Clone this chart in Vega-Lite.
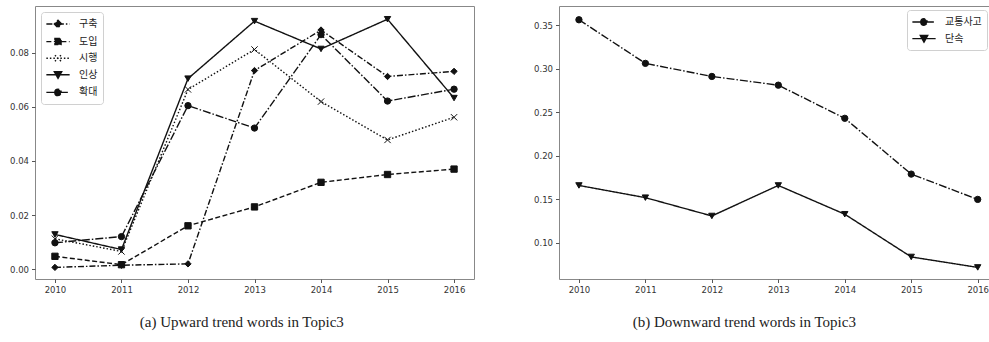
{
  "$schema": "https://vega.github.io/schema/vega-lite/v6.json",
  "padding": {"left": 9, "top": 5, "right": 0, "bottom": 0},
  "autosize": {"type": "pad"},
  "background": "white",
  "spacing": 58,
  "config": {
    "view": {"stroke": "#888", "strokeWidth": 1},
    "axis": {"grid": false, "domain": false, "tickColor": "#555", "tickSize": 3.5, "labelFont": "DejaVu Sans", "labelFontSize": 8.5, "labelColor": "#333", "title": null, "labelPadding": 3},
    "legend": {"title": null, "labelFont": "Noto Sans CJK KR", "labelFontSize": 10, "labelColor": "#222", "symbolSize": 150, "symbolOffset": 5, "padding": 5, "strokeColor": "#d0d0d0", "cornerRadius": 3, "fillColor": "white", "labelOffset": 14, "rowPadding": 3.6, "symbolFillColor": "#111", "symbolStrokeColor": "#111", "symbolStrokeWidth": 1.4}
  },
  "datasets": {
    "left": [
      {"year": 2010, "word": "구축", "value": 0.0006},
      {"year": 2011, "word": "구축", "value": 0.0014},
      {"year": 2012, "word": "구축", "value": 0.0019},
      {"year": 2013, "word": "구축", "value": 0.0735},
      {"year": 2014, "word": "구축", "value": 0.0885},
      {"year": 2015, "word": "구축", "value": 0.0713},
      {"year": 2016, "word": "구축", "value": 0.0732},
      {"year": 2010, "word": "도입", "value": 0.0047},
      {"year": 2011, "word": "도입", "value": 0.0016},
      {"year": 2012, "word": "도입", "value": 0.0160},
      {"year": 2013, "word": "도입", "value": 0.0230},
      {"year": 2014, "word": "도입", "value": 0.0321},
      {"year": 2015, "word": "도입", "value": 0.0350},
      {"year": 2016, "word": "도입", "value": 0.0370},
      {"year": 2010, "word": "시행", "value": 0.0112},
      {"year": 2011, "word": "시행", "value": 0.0065},
      {"year": 2012, "word": "시행", "value": 0.0665},
      {"year": 2013, "word": "시행", "value": 0.0813},
      {"year": 2014, "word": "시행", "value": 0.0620},
      {"year": 2015, "word": "시행", "value": 0.0478},
      {"year": 2016, "word": "시행", "value": 0.0562},
      {"year": 2010, "word": "인상", "value": 0.0128},
      {"year": 2011, "word": "인상", "value": 0.0072},
      {"year": 2012, "word": "인상", "value": 0.0705},
      {"year": 2013, "word": "인상", "value": 0.0918},
      {"year": 2014, "word": "인상", "value": 0.0815},
      {"year": 2015, "word": "인상", "value": 0.0925},
      {"year": 2016, "word": "인상", "value": 0.0633},
      {"year": 2010, "word": "확대", "value": 0.0097},
      {"year": 2011, "word": "확대", "value": 0.0120},
      {"year": 2012, "word": "확대", "value": 0.0605},
      {"year": 2013, "word": "확대", "value": 0.0522},
      {"year": 2014, "word": "확대", "value": 0.0868},
      {"year": 2015, "word": "확대", "value": 0.0622},
      {"year": 2016, "word": "확대", "value": 0.0666}
    ],
    "right": [
      {"year": 2010, "word": "교통사고", "value": 0.356},
      {"year": 2011, "word": "교통사고", "value": 0.306},
      {"year": 2012, "word": "교통사고", "value": 0.291},
      {"year": 2013, "word": "교통사고", "value": 0.281},
      {"year": 2014, "word": "교통사고", "value": 0.243},
      {"year": 2015, "word": "교통사고", "value": 0.179},
      {"year": 2016, "word": "교통사고", "value": 0.150},
      {"year": 2010, "word": "단속", "value": 0.166},
      {"year": 2011, "word": "단속", "value": 0.152},
      {"year": 2012, "word": "단속", "value": 0.131},
      {"year": 2013, "word": "단속", "value": 0.166},
      {"year": 2014, "word": "단속", "value": 0.133},
      {"year": 2015, "word": "단속", "value": 0.084},
      {"year": 2016, "word": "단속", "value": 0.072}
    ]
  },
  "hconcat": [
    {
      "width": 439,
      "height": 273,
      "data": {"name": "left"},
      "title": {"text": "(a) Upward trend words in Topic3", "orient": "bottom", "anchor": "middle", "frame": "bounds", "font": "Liberation Serif", "fontSize": 15, "fontWeight": "normal", "color": "#222", "offset": 21},
      "encoding": {
        "x": {"field": "year", "type": "quantitative", "scale": {"domain": [2009.7, 2016.3], "nice": false, "zero": false}, "axis": {"values": [2010, 2011, 2012, 2013, 2014, 2015, 2016], "format": "d", "labelFlush": false}},
        "y": {"field": "value", "type": "quantitative", "scale": {"domain": [-0.0037, 0.0974], "nice": false, "zero": false}, "axis": {"values": [0, 0.02, 0.04, 0.06, 0.08], "format": ".2f"}}
      },
      "layer": [
        {
          "mark": {"type": "line", "strokeWidth": 1.4, "color": "#111"},
          "encoding": {
            "detail": {"field": "word", "type": "nominal"},
            "strokeDash": {
              "field": "word", "type": "nominal",
              "scale": {"domain": ["구축", "도입", "시행", "인상", "확대", "교통사고", "단속"], "range": [[6, 2, 1.5, 2], [5, 2.5], [1.5, 2], [1, 0], [8, 2, 1.5, 2], [8, 2, 1.5, 2], [1, 0]]},
              "legend": {
                "orient": "top-left", "offset": 6,
                "values": ["구축", "도입", "시행", "인상", "확대"],
                "symbolType": {"expr": "datum.value === '구축' ? 'M-1.9,0H1.9M0,-0.6L0.6,0L0,0.6L-0.6,0Z' : datum.value === '도입' ? 'M-1.9,0H1.9M-0.5,-0.5H0.5V0.5H-0.5Z' : datum.value === '시행' ? 'M-1.9,0H1.9M-0.5,-0.5L0.5,0.5M-0.5,0.5L0.5,-0.5' : datum.value === '인상' ? 'M-1.9,0H1.9M-0.6,-0.5L0.6,-0.5L0,0.58Z' : 'M-1.9,0H1.9M-0.52,0A0.52,0.52 0 1,0 0.52,0A0.52,0.52 0 1,0 -0.52,0Z'"}
              }
            }
          }
        },
        {
          "mark": {"type": "point", "filled": true, "size": 40, "color": "#111", "stroke": "#111", "strokeWidth": 1, "opacity": 1},
          "encoding": {
            "shape": {
              "field": "word", "type": "nominal",
              "scale": {"domain": ["구축", "도입", "시행", "인상", "확대", "교통사고", "단속"], "range": ["diamond", "square", "M-1,-1L1,1M-1,1L1,-1", "triangle-down", "circle", "circle", "triangle-down"]},
              "legend": null
            }
          }
        }
      ]
    },
    {
      "width": 432,
      "height": 273,
      "data": {"name": "right"},
      "title": {"text": "(b) Downward trend words in Topic3", "orient": "bottom", "anchor": "middle", "frame": "bounds", "font": "Liberation Serif", "fontSize": 15, "fontWeight": "normal", "color": "#222", "offset": 21, "dx": -18},
      "encoding": {
        "x": {"field": "year", "type": "quantitative", "scale": {"domain": [2009.7, 2016.2], "nice": false, "zero": false}, "axis": {"values": [2010, 2011, 2012, 2013, 2014, 2015, 2016], "format": "d", "labelFlush": false}},
        "y": {"field": "value", "type": "quantitative", "scale": {"domain": [0.0587, 0.3718], "nice": false, "zero": false}, "axis": {"values": [0.1, 0.15, 0.2, 0.25, 0.3, 0.35], "format": ".2f"}}
      },
      "layer": [
        {
          "mark": {"type": "line", "strokeWidth": 1.4, "color": "#111"},
          "encoding": {
            "detail": {"field": "word", "type": "nominal"},
            "strokeDash": {
              "field": "word", "type": "nominal",
              "scale": {"domain": ["구축", "도입", "시행", "인상", "확대", "교통사고", "단속"], "range": [[6, 2, 1.5, 2], [5, 2.5], [1.5, 2], [1, 0], [8, 2, 1.5, 2], [8, 2, 1.5, 2], [1, 0]]},
              "legend": {
                "orient": "top-right", "offset": 4,
                "values": ["교통사고", "단속"],
                "symbolType": {"expr": "datum.value === '교통사고' ? 'M-1.9,0H1.9M-0.52,0A0.52,0.52 0 1,0 0.52,0A0.52,0.52 0 1,0 -0.52,0Z' : 'M-1.9,0H1.9M-0.6,-0.5L0.6,-0.5L0,0.58Z'"}
              }
            }
          }
        },
        {
          "mark": {"type": "point", "filled": true, "size": 40, "color": "#111", "stroke": "#111", "strokeWidth": 1, "opacity": 1},
          "encoding": {
            "shape": {
              "field": "word", "type": "nominal",
              "scale": {"domain": ["구축", "도입", "시행", "인상", "확대", "교통사고", "단속"], "range": ["diamond", "square", "M-1,-1L1,1M-1,1L1,-1", "triangle-down", "circle", "circle", "triangle-down"]},
              "legend": null
            }
          }
        }
      ]
    }
  ]
}
